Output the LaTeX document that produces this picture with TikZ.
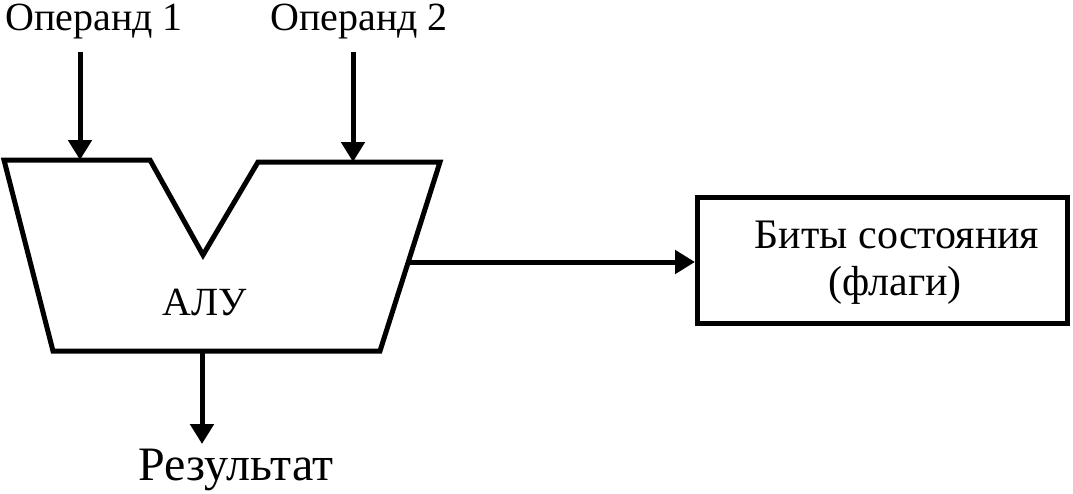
\documentclass[tikz,border=0pt]{standalone}
\usepackage{fontspec}
\setmainfont{Liberation Serif}
\usetikzlibrary{arrows.meta}
\begin{document}
\begin{tikzpicture}[x=1pt,y=-1pt,line width=5pt,
  arr/.style={-{Triangle[length=20pt,width=23pt]}},
  lbl/.style={font=\fontsize{40}{47}\selectfont,inner sep=0pt,anchor=base},
  flagbox/.style={draw,rectangle,minimum width=370pt,minimum height=126pt,inner sep=0pt}]
\useasboundingbox (0,0) rectangle (1073,493);
% ALU shape
\draw[miter limit=10] (4,160) -- (150,160) -- (203,255) -- (258,162) -- (440,162) -- (380,351) -- (53,351) -- cycle;
\coordinate (in1) at (80,160);
\coordinate (in2) at (353,162);
\coordinate (out) at (202,351);
\coordinate (fout) at (408,262);
\node[lbl] (alu) at (205,315) {АЛУ};
% labels
\node[lbl] (op1) at (94,30) {Операнд 1};
\node[lbl] (op2) at (359,30) {Операнд 2};
\node[lbl,font=\fontsize{48}{56}\selectfont] (res) at (236,480) {Результат};
\coordinate (s1) at (80,52);
\coordinate (s2) at (353,52);
\coordinate (e3) at (202,444);
\draw[arr] (s1) -- (in1);
\draw[arr] (s2) -- (in2);
\draw[arr] (out) -- (e3);
% flags box
\node[flagbox] (flags) at (882.5,260.5) {};
\node[lbl,font=\fontsize{42}{49}\selectfont] (fl1) at (897,248) {Биты состояния};
\node[lbl,font=\fontsize{42}{49}\selectfont] (fl2) at (895,295) {(флаги)};
\draw[arr] (fout) -- (flags.west |- fout);
\end{tikzpicture}
\end{document}
